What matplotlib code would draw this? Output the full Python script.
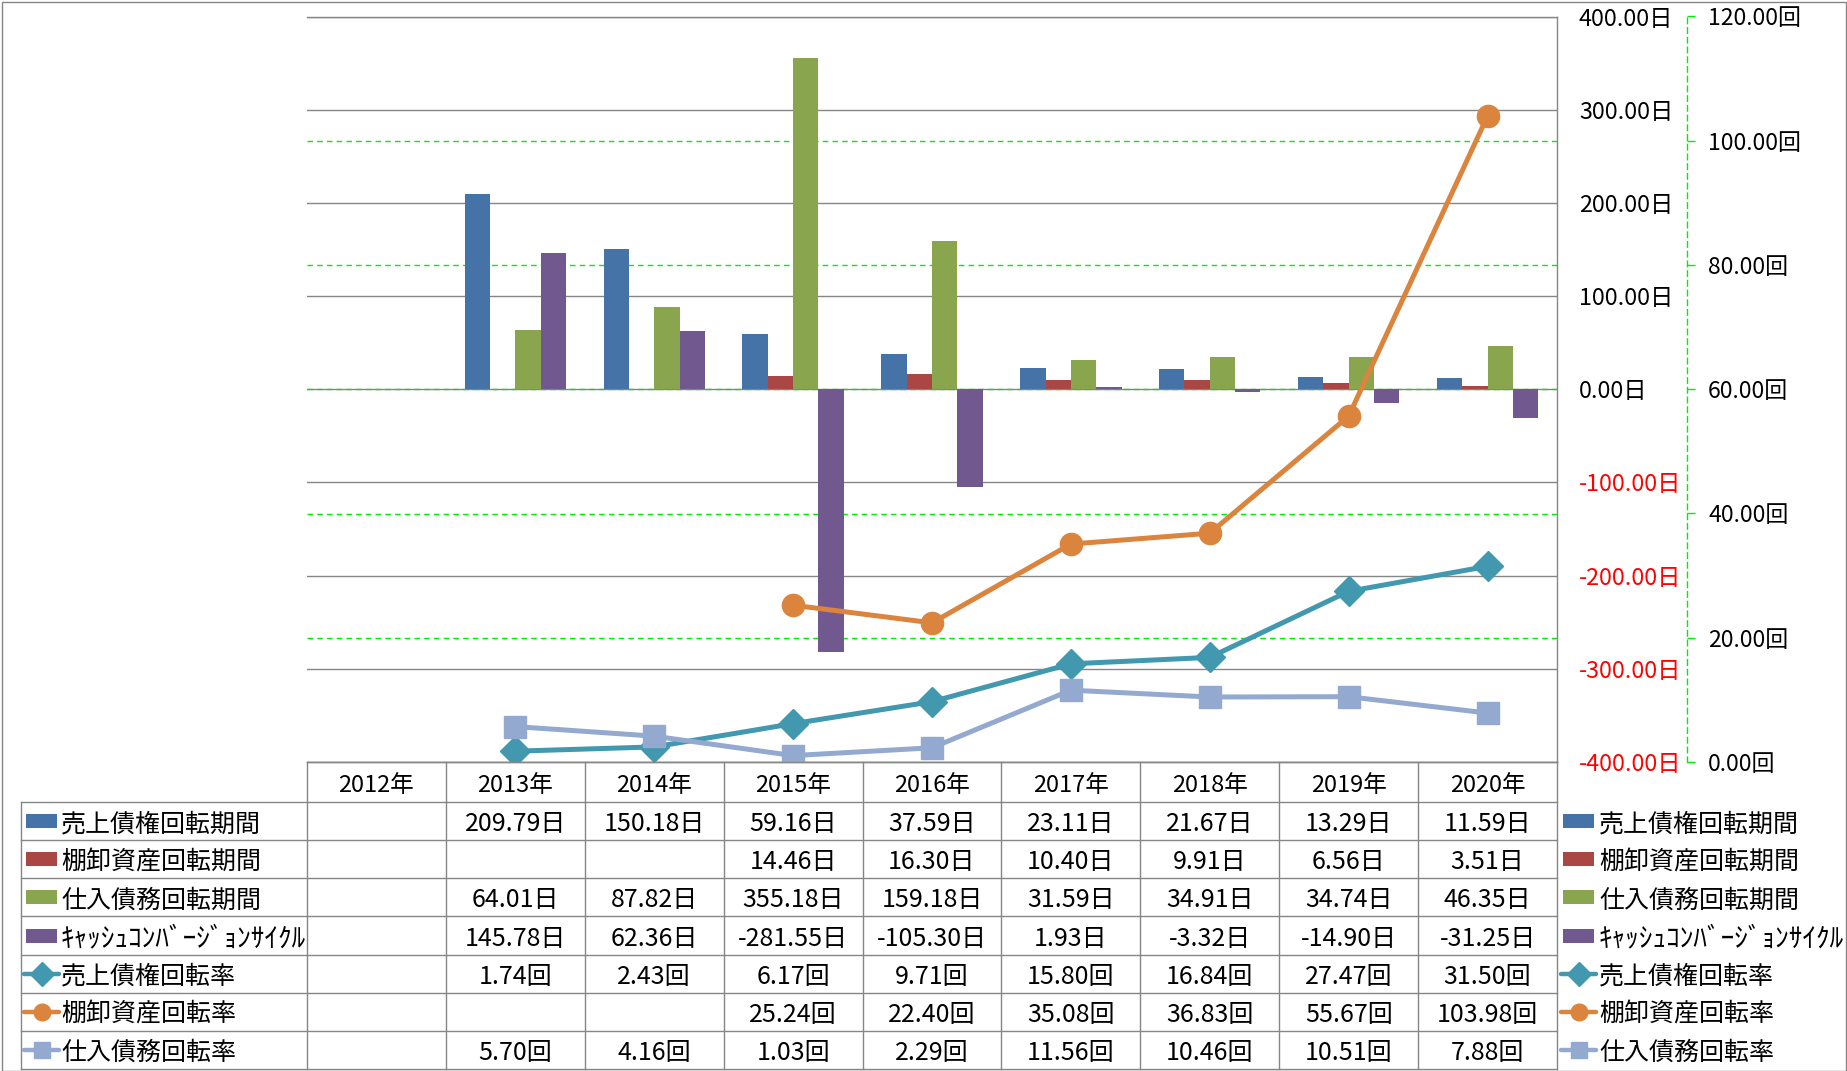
import numpy as np
import matplotlib
matplotlib.use('Agg')
import matplotlib.pyplot as plt
from matplotlib.transforms import blended_transform_factory
from matplotlib.patches import Rectangle

plt.rcParams['font.family'] = ['Noto Sans CJK JP', 'DejaVu Sans']

nan = np.nan
years = ['2012年', '2013年', '2014年', '2015年', '2016年', '2017年', '2018年', '2019年', '2020年']

ar_days = [nan, 209.79, 150.18, 59.16, 37.59, 23.11, 21.67, 13.29, 11.59]
inv_days = [nan, nan, nan, 14.46, 16.30, 10.40, 9.91, 6.56, 3.51]
ap_days = [nan, 64.01, 87.82, 355.18, 159.18, 31.59, 34.91, 34.74, 46.35]
ccc_days = [nan, 145.78, 62.36, -281.55, -105.30, 1.93, -3.32, -14.90, -31.25]

ar_turn = [nan, 1.74, 2.43, 6.17, 9.71, 15.80, 16.84, 27.47, 31.50]
inv_turn = [nan, nan, nan, 25.24, 22.40, 35.08, 36.83, 55.67, 103.98]
ap_turn = [nan, 5.70, 4.16, 1.03, 2.29, 11.56, 10.46, 10.51, 7.88]

bar_names = ['売上債権回転期間', '棚卸資産回転期間', '仕入債務回転期間', 'ｷｬｯｼｭｺﾝﾊﾞｰｼﾞｮﾝｻｲｸﾙ']
line_names = ['売上債権回転率', '棚卸資産回転率', '仕入債務回転率']
day_ticks = [-400, -300, -200, -100, 0, 100, 200, 300, 400]
turn_ticks = [0, 20, 40, 60, 80, 100, 120]

bar_series = [ar_days, inv_days, ap_days, ccc_days]
line_series = [ar_turn, inv_turn, ap_turn]
bar_colors = ['#4572A7', '#AA4643', '#89A54E', '#71588F']
line_colors = ['#4198AF', '#DB843D', '#93A9CF']
line_markers = ['D', 'o', 's']
line_ms = [15, 16, 16]
leg_ms = [12, 12, 12]
label_sizes = [18, 18, 18, 19.6, 18, 18, 18]

W, H = 1847, 1071
DPI = 100
PL, PR, PT, PB, TB = 307, 1557, 16.5, 762, 1069
cw = (PR - PL) / 9.0
GRAY = '#868686'
GREEN = '#00EE00'
TY = 3  # text baseline nudge (px)

fig = plt.figure(figsize=(W / DPI, H / DPI), dpi=DPI)
ax = fig.add_axes([PL / W, 1 - PB / H, (PR - PL) / W, (PB - PT) / H])
ax2 = ax.twinx()

x = np.arange(len(years))
bw = 0.1825
for j, (vals, c) in enumerate(zip(bar_series, bar_colors)):
    ax.bar(x + (j - 1.5) * bw, vals, width=bw, color=c, zorder=2, linewidth=0)

ax.set_xlim(-0.5, len(years) - 0.5)
ax.set_ylim(day_ticks[0], day_ticks[-1])
ax.set_xticks([])
ax.yaxis.tick_right()
ax.set_yticks(day_ticks)
ax.set_yticklabels([f'{v:.2f}日' for v in day_ticks])
for lab, v in zip(ax.get_yticklabels(), day_ticks):
    lab.set_color('red' if v < 0 else 'black')
ax.tick_params(axis='y', length=0, pad=15.8, labelsize=16.8)
ax.set_axisbelow(True)
ax.yaxis.grid(True, color=GRAY, linewidth=1.0)
ax.spines['left'].set_visible(False)
for s in ['right', 'top', 'bottom']:
    ax.spines[s].set_color(GRAY)
    ax.spines[s].set_linewidth(1.0)

# secondary axis
ax2.set_ylim(turn_ticks[0], turn_ticks[-1])
ax2.set_yticks(turn_ticks)
ax2.set_yticklabels([f'{v:.2f}回' for v in turn_ticks])
ax2.tick_params(axis='y', length=5.8, width=1, color=GREEN, pad=9.4, labelsize=16.6)
ax2.spines['right'].set_position(('outward', 130 * 72 / DPI))
ax2.spines['right'].set_color(GREEN)
ax2.spines['right'].set_linestyle((0, (4, 3)))
ax2.spines['right'].set_linewidth(1.0)
for s in ['left', 'top', 'bottom']:
    ax2.spines[s].set_visible(False)

# green dashed gridlines from secondary axis
gtrans = blended_transform_factory(ax.transAxes, ax2.transData)
for v in turn_ticks[1:-1]:
    ax.plot([0, 1], [v, v], transform=gtrans, color=GREEN, lw=1.0,
            linestyle=(0, (4, 3)), zorder=0.3)

for vals, c, m, ms in zip(line_series, line_colors, line_markers, line_ms):
    ax2.plot(x, vals, color=c, lw=3.6, marker=m, markersize=ms,
             markerfacecolor=c, markeredgecolor=c, zorder=3)

# data table
tax = fig.add_axes([PL / W, 1 - TB / H, (PR - PL) / W, (TB - PB) / H])
tax.set_xlim(-0.5, len(years) - 0.5)
tax.set_ylim(TB, PB)
tax.axis('off')


def cx(px):
    return (px - PL) / cw - 0.5


row_h = (TB - 802) / 7.0
row_edges = [802 + row_h * i for i in range(8)]
tab_kw = dict(color=GRAY, lw=1.0, clip_on=False)
tax.plot([-0.5, len(years) - 0.5], [PB, PB], **tab_kw)
for y in row_edges:
    tax.plot([cx(21), len(years) - 0.5], [y, y], **tab_kw)
for k in range(len(years) + 1):
    tax.plot([k - 0.5, k - 0.5], [PB, TB], **tab_kw)
tax.plot([cx(21), cx(21)], [802, TB], **tab_kw)

for i, yr in enumerate(years):
    tax.text(i, 782 + TY, yr, ha='center', va='center', fontsize=17)

all_names = bar_names + line_names
all_vals = bar_series + line_series
units = ['日'] * 4 + ['回'] * 3
for r, (name, vals, u) in enumerate(zip(all_names, all_vals, units)):
    yc = row_edges[r] + row_h / 2
    for i, v in enumerate(vals):
        if not np.isnan(v):
            tax.text(i, yc + TY, f'{v:.2f}{u}', ha='center', va='center', fontsize=18)
    for (sx0, sx1, tx) in [(26, 57, 61), (1563, 1594, 1599)]:
        if r < 4:
            tax.add_patch(Rectangle((cx(sx0), yc - 7), (sx1 - sx0) / cw, 14,
                                    color=bar_colors[r], clip_on=False, lw=0))
        else:
            k = r - 4
            tax.plot([cx(sx0 - 2), cx(sx1 + 2)], [yc, yc], color=line_colors[k],
                     lw=3.2, clip_on=False, solid_capstyle='round')
            tax.plot([cx((sx0 + sx1) / 2)], [yc], marker=line_markers[k],
                     ms=leg_ms[k], color=line_colors[k], clip_on=False)
        tax.text(cx(tx), yc + TY, name, ha='left', va='center', fontsize=label_sizes[r])

fig.add_artist(Rectangle((1.5 / W, 0.5 / H), (W - 3) / W, (H - 2) / H,
                         transform=fig.transFigure, fill=False, ec=GRAY, lw=1.0))

fig.savefig('out.png', dpi=DPI)
